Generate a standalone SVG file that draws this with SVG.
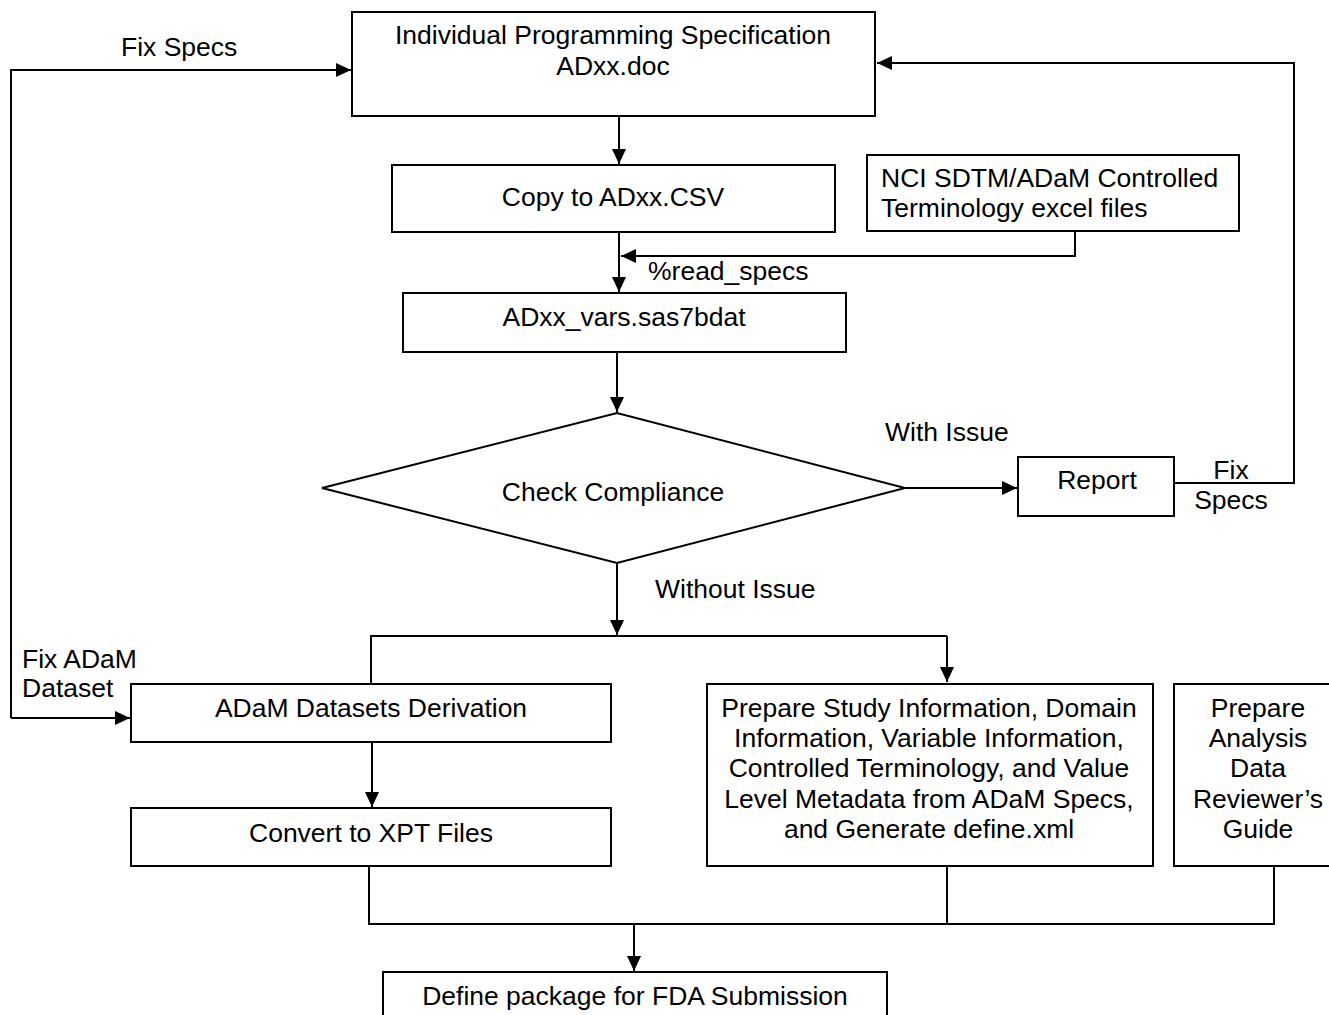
<svg xmlns="http://www.w3.org/2000/svg" width="1329" height="1015" viewBox="0 0 1329 1015">
<defs>
<marker id="ah" markerUnits="userSpaceOnUse" markerWidth="16" markerHeight="16" viewBox="0 0 16 16" refX="15" refY="8" orient="auto">
<path d="M0,1 L15,8 L0,15 Z" fill="#000"/>
</marker>
<style>
.box{fill:#fff;stroke:#000;stroke-width:2}
.ln{fill:none;stroke:#000;stroke-width:2}
.ar{fill:none;stroke:#000;stroke-width:2;marker-end:url(#ah)}
text{font-family:"Liberation Sans",Arial,sans-serif;font-size:26.5px;fill:#000}
.c{text-anchor:middle}
</style>
</defs>
<rect width="1329" height="1015" fill="#fff"/>
<g id="connectors">
<polyline class="ar" points="11,718 11,70 351,70"/>
<line class="ar" x1="11" y1="718" x2="130" y2="718"/>
<polyline class="ar" points="1174,483 1294,483 1294,63 877,63"/>
<line class="ar" x1="619" y1="116" x2="619" y2="164"/>
<line class="ar" x1="619" y1="233" x2="619" y2="292"/>
<polyline class="ar" points="1075,231 1075,256 621,256"/>
<line class="ar" x1="617" y1="352" x2="617" y2="412"/>
<line class="ar" x1="905" y1="488" x2="1017" y2="488"/>
<line class="ar" x1="617" y1="563" x2="617" y2="635"/>
<polyline class="ln" points="371,683 371,636 947,636"/>
<line class="ar" x1="947" y1="636" x2="947" y2="682"/>
<line class="ar" x1="372" y1="742" x2="372" y2="807"/>
<polyline class="ln" points="369,866 369,924 1274,924 1274,866"/>
<line class="ln" x1="947" y1="866" x2="947" y2="924"/>
<line class="ar" x1="634" y1="924" x2="634" y2="971"/>
</g>
<g id="n-spec">
<rect class="box" x="352" y="12" width="523" height="104"/>
<text class="c" x="613" y="44">Individual Programming Specification</text>
<text class="c" x="613" y="75">ADxx.doc</text>
</g>
<g id="n-copy">
<rect class="box" x="392" y="165" width="443" height="67"/>
<text class="c" x="613" y="206">Copy to ADxx.CSV</text>
</g>
<g id="n-nci">
<rect class="box" x="867" y="155" width="372" height="76"/>
<text x="881" y="187">NCI SDTM/ADaM Controlled</text>
<text x="881" y="217">Terminology excel files</text>
</g>
<g id="l-read">
<text x="648" y="280">%read_specs</text>
</g>
<g id="n-vars">
<rect class="box" x="403" y="293" width="443" height="59"/>
<text class="c" x="624" y="326">ADxx_vars.sas7bdat</text>
</g>
<g id="n-check">
<polygon class="box" points="322,488 617,413 905,488 617,563"/>
<text class="c" x="613" y="501">Check Compliance</text>
</g>
<g id="l-with">
<text x="885" y="441">With Issue</text>
</g>
<g id="n-report">
<rect class="box" x="1018" y="457" width="156" height="59"/>
<text class="c" x="1097" y="489">Report</text>
</g>
<g id="l-fix">
<text x="121" y="56">Fix Specs</text>
<text class="c" x="1231" y="479">Fix</text>
<text class="c" x="1231" y="509">Specs</text>
<text x="655" y="598">Without Issue</text>
<text x="22" y="668">Fix ADaM</text>
<text x="22" y="697">Dataset</text>
</g>
<g id="n-derive">
<rect class="box" x="131" y="684" width="480" height="58"/>
<text class="c" x="371" y="717">ADaM Datasets Derivation</text>
</g>
<g id="n-xpt">
<rect class="box" x="131" y="808" width="480" height="58"/>
<text class="c" x="371" y="842">Convert to XPT Files</text>
</g>
<g id="n-define">
<rect class="box" x="707" y="684" width="446" height="182"/>
<text class="c" x="929" y="717">Prepare Study Information, Domain</text>
<text class="c" x="929" y="747">Information, Variable Information,</text>
<text class="c" x="929" y="777">Controlled Terminology, and Value</text>
<text class="c" x="929" y="808">Level Metadata from ADaM Specs,</text>
<text class="c" x="929" y="838">and Generate define.xml</text>
</g>
<g id="n-adrg">
<rect class="box" x="1174" y="684" width="170" height="182"/>
<text class="c" x="1258" y="717">Prepare</text>
<text class="c" x="1258" y="747">Analysis</text>
<text class="c" x="1258" y="777">Data</text>
<text class="c" x="1258" y="808">Reviewer’s</text>
<text class="c" x="1258" y="838">Guide</text>
</g>
<g id="n-package">
<rect class="box" x="383" y="972" width="504" height="60"/>
<text class="c" x="635" y="1005">Define package for FDA Submission</text>
</g>
</svg>
